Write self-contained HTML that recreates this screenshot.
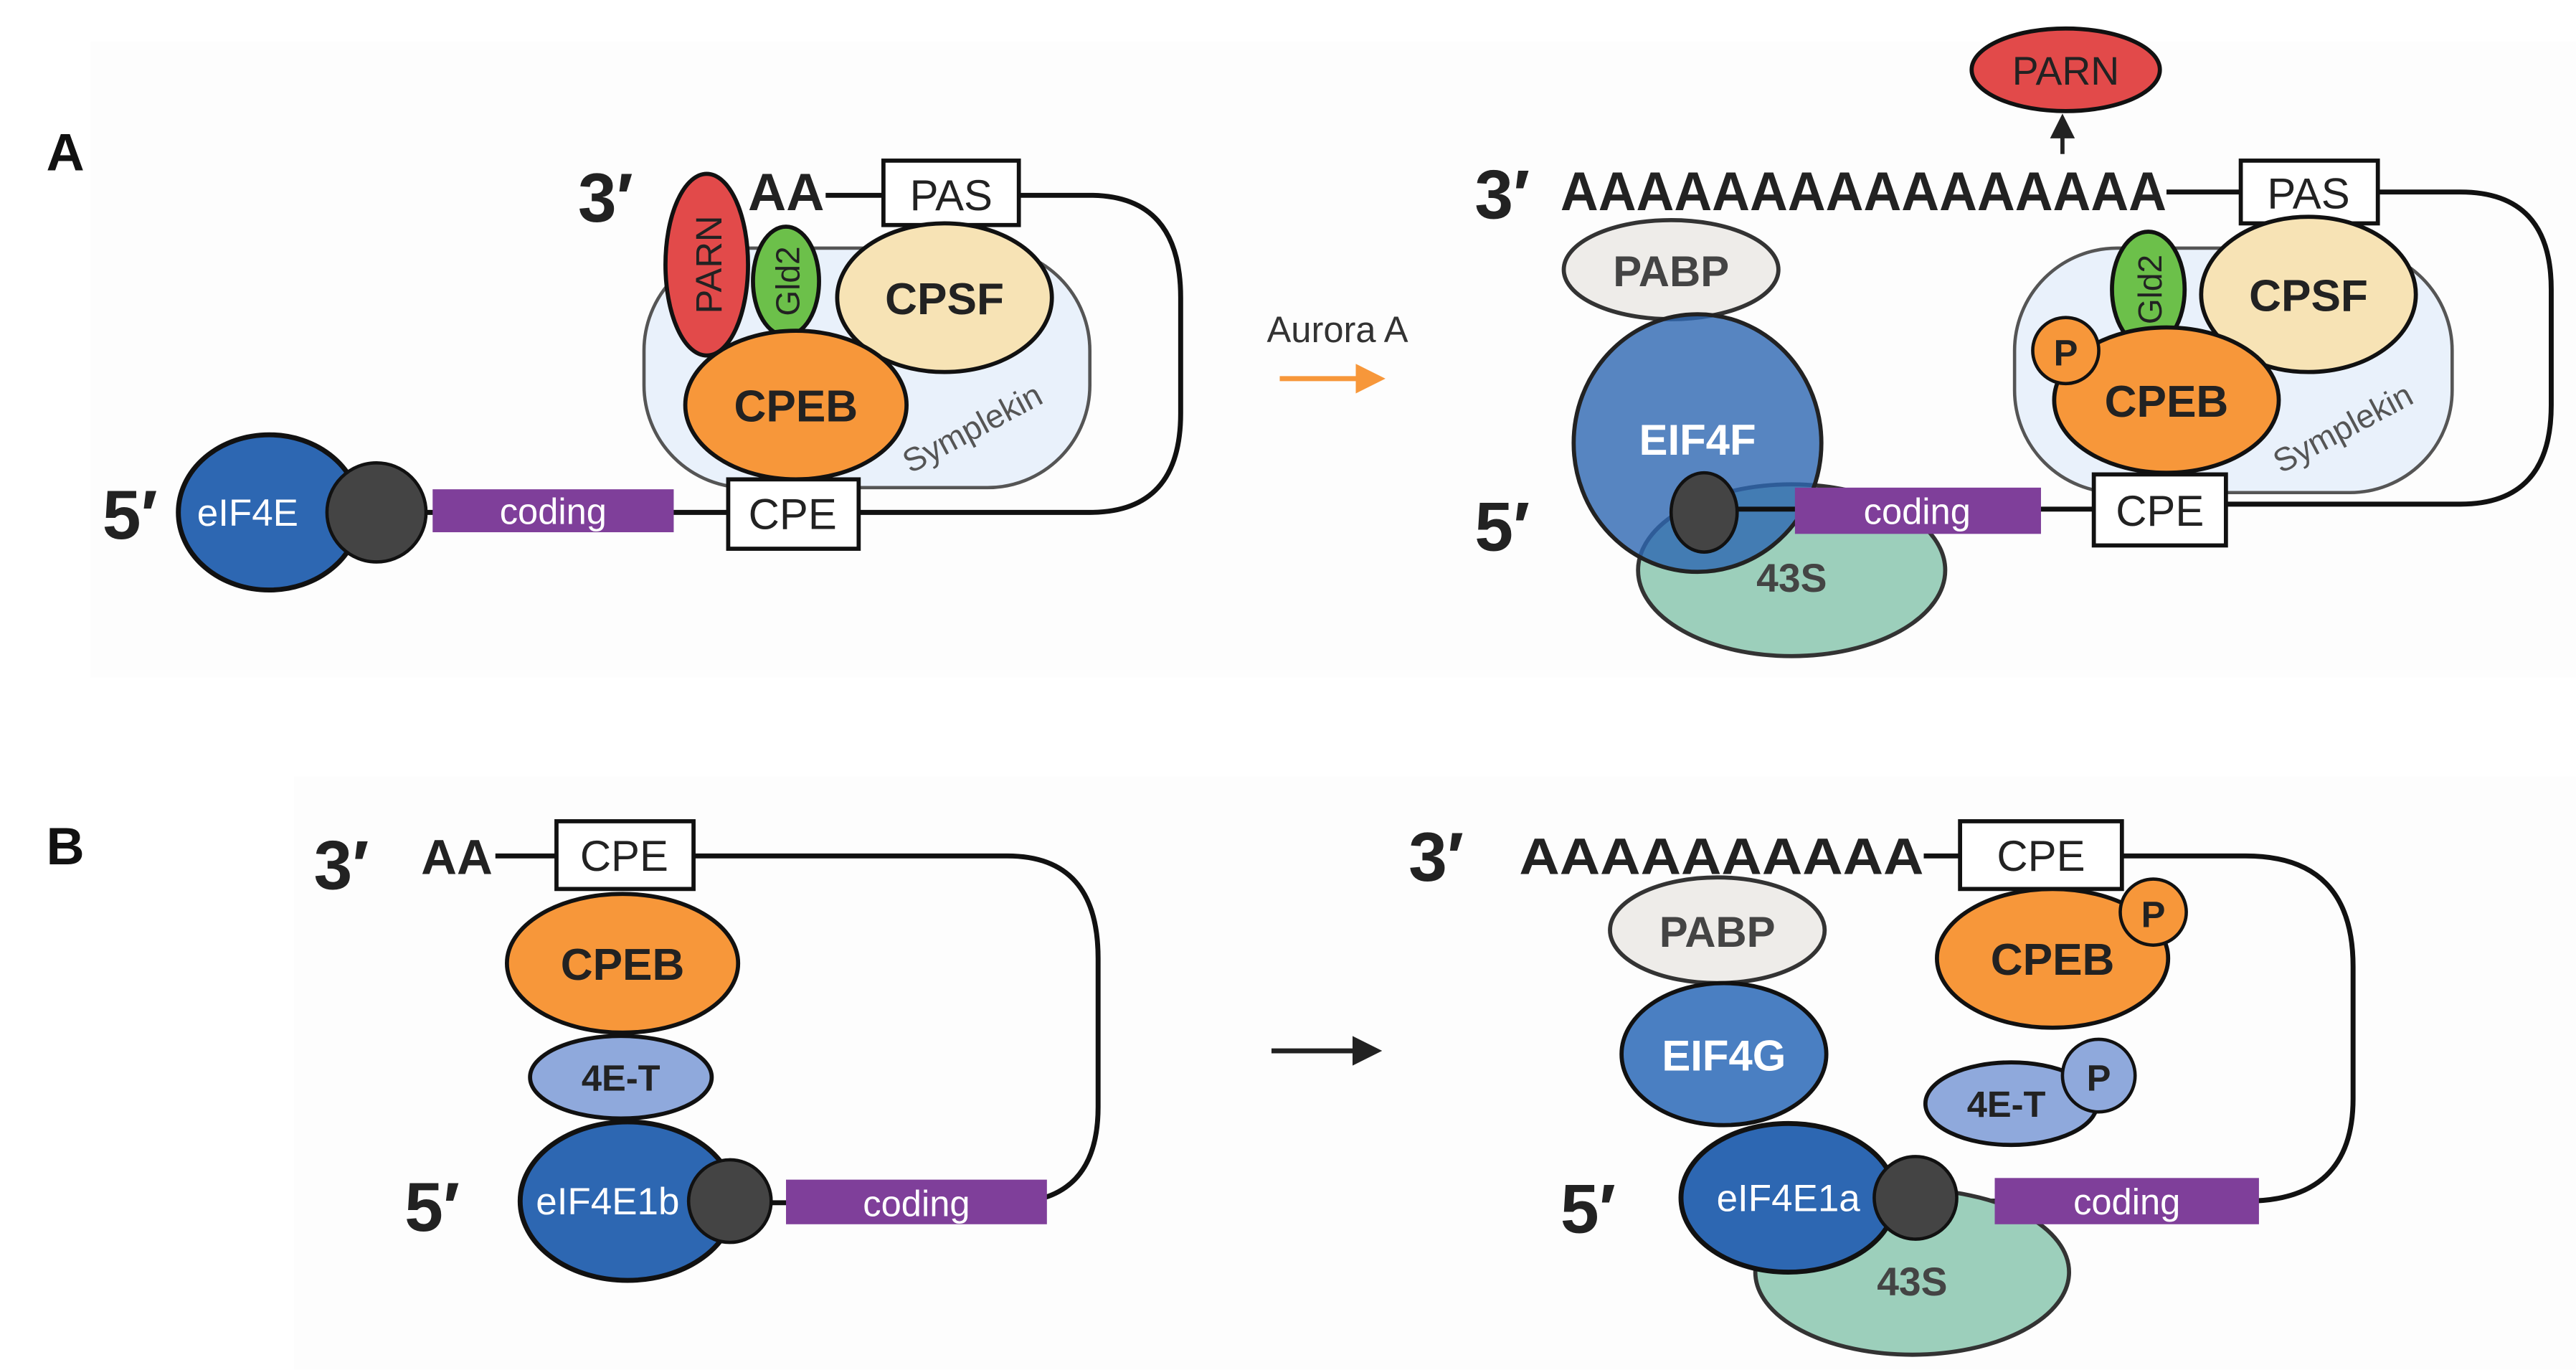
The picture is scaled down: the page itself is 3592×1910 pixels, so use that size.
<!DOCTYPE html>
<html><head><meta charset="utf-8"><style>html,body{margin:0;padding:0;background:#fff}svg{display:block}</style></head>
<body>
<svg width="3592" height="1910" viewBox="0 0 1560 829" xmlns="http://www.w3.org/2000/svg" font-family="Liberation Sans, sans-serif">
<rect x="0" y="0" width="1560" height="829" fill="#fff"/>
<rect x="55" y="25" width="1505" height="385" fill="#fdfdfd"/>
<rect x="178" y="470" width="1382" height="359" fill="#fdfdfd"/>
<defs><marker id="ah" markerWidth="6" markerHeight="6" refX="3" refY="3" orient="auto"><path d="M0,0 L6,3 L0,6 z" fill="#222"/></marker>
<marker id="ao" markerWidth="6" markerHeight="6" refX="3" refY="3" orient="auto"><path d="M0,0 L6,3 L0,6 z" fill="#f7973a"/></marker></defs>
<g stroke="#111" stroke-width="3" fill="none">
<path d="M500,118 H535 M617,118 H660 Q715,118 715,180 V250 Q715,310 660,310 H520 M441,310 H230"/>
<path d="M1312,116 H1357 M1440,116 H1490 Q1545,116 1545,175 V245 Q1545,305 1490,305 H1348 M1268,308 H1043"/>
<path d="M300,518 H337 M420,518 H610 Q665,518 665,580 V670 Q665,728 610,728 H442"/>
<path d="M1165,518 H1187 M1285,518 H1360 Q1425,518 1425,585 V665 Q1425,727 1360,727 H1160"/>
</g>
<text x="28" y="103" font-size="32" font-weight="bold" fill="#111">A</text>
<text x="28" y="523" font-size="32" font-weight="bold" fill="#111">B</text>
<g font-weight="bold" fill="#222">
<text x="350" y="134" font-size="42">3′</text>
<text x="453" y="127" font-size="32">AA</text>
<text x="62" y="326" font-size="42">5′</text>
<text x="893" y="132" font-size="42">3′</text>
<text x="945" y="127" font-size="33" textLength="367" lengthAdjust="spacingAndGlyphs">AAAAAAAAAAAAAAAA</text>
<text x="893" y="333" font-size="42">5′</text>
<text x="190" y="538" font-size="42">3′</text>
<text x="255" y="529" font-size="30">AA</text>
<text x="245" y="745" font-size="42">5′</text>
<text x="853" y="533" font-size="42">3′</text>
<text x="920" y="529" font-size="31" textLength="245" lengthAdjust="spacingAndGlyphs">AAAAAAAAAA</text>
<text x="945" y="746" font-size="42">5′</text>
</g>
<rect x="390" y="150" width="270" height="145" rx="62" fill="#e9f1fb" stroke="#555" stroke-width="2"/>
<rect x="535" y="97" width="82" height="39" fill="#fff" stroke="#111" stroke-width="2.5"/>
<text x="576" y="127" font-size="26" text-anchor="middle" fill="#222">PAS</text>
<ellipse cx="428" cy="160" rx="25" ry="55" fill="#e24a4a" stroke="#111" stroke-width="2.5"/>
<text transform="translate(437,160) rotate(-90)" font-size="22" text-anchor="middle" fill="#222">PARN</text>
<ellipse cx="476" cy="170" rx="20" ry="33" fill="#6cc04a" stroke="#111" stroke-width="2.5"/>
<text transform="translate(484,170) rotate(-90)" font-size="20" text-anchor="middle" fill="#222">Gld2</text>
<ellipse cx="572" cy="180" rx="65" ry="45" fill="#f7e3b5" stroke="#111" stroke-width="2.5"/>
<text x="572" y="190" font-size="27" font-weight="bold" text-anchor="middle" fill="#222">CPSF</text>
<ellipse cx="482" cy="245" rx="67" ry="45" fill="#f7973a" stroke="#111" stroke-width="2.5"/>
<text x="482" y="255" font-size="27" font-weight="bold" text-anchor="middle" fill="#222">CPEB</text>
<text transform="translate(592,265) rotate(-28)" font-size="20" text-anchor="middle" fill="#555">Symplekin</text>
<rect x="441" y="290" width="79" height="42" fill="#fff" stroke="#111" stroke-width="2.5"/>
<text x="480" y="320" font-size="26" text-anchor="middle" fill="#222">CPE</text>
<rect x="262" y="296" width="146" height="26" fill="#7f3f9a"/>
<text x="335" y="317" font-size="22" text-anchor="middle" fill="#fff">coding</text>
<ellipse cx="163" cy="310" rx="55" ry="47" fill="#2d67b2" stroke="#111" stroke-width="3"/>
<text x="150" y="318" font-size="23" text-anchor="middle" fill="#fff">eIF4E</text>
<circle cx="228" cy="310" r="30" fill="#444" stroke="#111" stroke-width="2"/>
<text x="810" y="207" font-size="22" text-anchor="middle" fill="#333">Aurora A</text>
<line x1="775" y1="229" x2="830" y2="229" stroke="#f7973a" stroke-width="3" marker-end="url(#ao)"/>
<ellipse cx="1251" cy="42" rx="57" ry="25" fill="#e24a4a" stroke="#111" stroke-width="2.5"/>
<text x="1251" y="51" font-size="24" text-anchor="middle" fill="#222">PARN</text>
<line x1="1249" y1="93" x2="1249" y2="76" stroke="#222" stroke-width="2.5" marker-end="url(#ah)"/>
<rect x="1220" y="150" width="265" height="148" rx="62" fill="#e9f1fb" stroke="#555" stroke-width="2"/>
<rect x="1357" y="97" width="83" height="38" fill="#fff" stroke="#111" stroke-width="2.5"/>
<text x="1398" y="126" font-size="26" text-anchor="middle" fill="#222">PAS</text>
<ellipse cx="1301" cy="175" rx="22" ry="35" fill="#6cc04a" stroke="#111" stroke-width="2.5"/>
<text transform="translate(1309,175) rotate(-90)" font-size="20" text-anchor="middle" fill="#222">Gld2</text>
<ellipse cx="1398" cy="178" rx="65" ry="47" fill="#f7e3b5" stroke="#111" stroke-width="2.5"/>
<text x="1398" y="188" font-size="27" font-weight="bold" text-anchor="middle" fill="#222">CPSF</text>
<ellipse cx="1312" cy="242" rx="68" ry="44" fill="#f7973a" stroke="#111" stroke-width="2.5"/>
<text x="1312" y="252" font-size="27" font-weight="bold" text-anchor="middle" fill="#222">CPEB</text>
<circle cx="1251" cy="212" r="20" fill="#f7973a" stroke="#111" stroke-width="2"/>
<text x="1251" y="221" font-size="22" font-weight="bold" text-anchor="middle" fill="#222">P</text>
<text transform="translate(1422,265) rotate(-28)" font-size="20" text-anchor="middle" fill="#555">Symplekin</text>
<rect x="1268" y="287" width="80" height="43" fill="#fff" stroke="#111" stroke-width="2.5"/>
<text x="1308" y="318" font-size="26" text-anchor="middle" fill="#222">CPE</text>
<ellipse cx="1012" cy="163" rx="65" ry="30" fill="#eeece9" stroke="#333" stroke-width="2.5"/>
<text x="1012" y="173" font-size="26" font-weight="bold" text-anchor="middle" fill="#444">PABP</text>
<ellipse cx="1085" cy="345" rx="93" ry="52" fill="#9ccfbb" stroke="#333" stroke-width="2.5"/>
<text x="1085" y="358" font-size="24" font-weight="bold" text-anchor="middle" fill="#444">43S</text>
<ellipse cx="1028" cy="268" rx="75" ry="78" fill="#2d67b2" fill-opacity="0.8" stroke="#222" stroke-width="2.5"/>
<text x="1028" y="275" font-size="26" font-weight="bold" text-anchor="middle" fill="#fff">EIF4F</text>
<rect x="1087" y="295" width="149" height="28" fill="#7f3f9a"/>
<text x="1161" y="317" font-size="22" text-anchor="middle" fill="#fff">coding</text>
<line x1="1043" y1="308" x2="1087" y2="308" stroke="#111" stroke-width="3"/>
<ellipse cx="1032" cy="310" rx="20" ry="24" fill="#444" stroke="#111" stroke-width="2"/>
<rect x="337" y="497" width="83" height="41" fill="#fff" stroke="#111" stroke-width="2.5"/>
<text x="378" y="527" font-size="26" text-anchor="middle" fill="#222">CPE</text>
<ellipse cx="377" cy="583" rx="70" ry="42" fill="#f7973a" stroke="#111" stroke-width="2.5"/>
<text x="377" y="593" font-size="27" font-weight="bold" text-anchor="middle" fill="#222">CPEB</text>
<ellipse cx="376" cy="652" rx="55" ry="25" fill="#8fa9dc" stroke="#111" stroke-width="2.5"/>
<text x="376" y="660" font-size="22" font-weight="bold" text-anchor="middle" fill="#222">4E-T</text>
<ellipse cx="380" cy="727" rx="65" ry="48" fill="#2d67b2" stroke="#111" stroke-width="3"/>
<text x="368" y="735" font-size="23" text-anchor="middle" fill="#fff">eIF4E1b</text>
<rect x="476" y="714" width="158" height="27" fill="#7f3f9a"/>
<text x="555" y="736" font-size="22" text-anchor="middle" fill="#fff">coding</text>
<circle cx="442" cy="727" r="25" fill="#444" stroke="#111" stroke-width="2"/>
<line x1="770" y1="636" x2="828" y2="636" stroke="#222" stroke-width="3" marker-end="url(#ah)"/>
<rect x="1187" y="497" width="98" height="41" fill="#fff" stroke="#111" stroke-width="2.5"/>
<text x="1236" y="527" font-size="26" text-anchor="middle" fill="#222">CPE</text>
<ellipse cx="1040" cy="563" rx="65" ry="32" fill="#eeece9" stroke="#333" stroke-width="2.5"/>
<text x="1040" y="573" font-size="26" font-weight="bold" text-anchor="middle" fill="#444">PABP</text>
<ellipse cx="1044" cy="638" rx="62" ry="43" fill="#4a7fc2" stroke="#111" stroke-width="2.5"/>
<text x="1044" y="648" font-size="26" font-weight="bold" text-anchor="middle" fill="#fff">EIF4G</text>
<ellipse cx="1158" cy="770" rx="95" ry="50" fill="#9ccfbb" stroke="#333" stroke-width="2.5"/>
<text x="1158" y="784" font-size="24" font-weight="bold" text-anchor="middle" fill="#444">43S</text>
<ellipse cx="1083" cy="725" rx="65" ry="45" fill="#2d67b2" stroke="#111" stroke-width="3"/>
<text x="1083" y="733" font-size="23" text-anchor="middle" fill="#fff">eIF4E1a</text>
<rect x="1208" y="713" width="160" height="28" fill="#7f3f9a"/>
<text x="1288" y="735" font-size="22" text-anchor="middle" fill="#fff">coding</text>
<circle cx="1160" cy="725" r="25" fill="#444" stroke="#111" stroke-width="2"/>
<ellipse cx="1243" cy="580" rx="70" ry="42" fill="#f7973a" stroke="#111" stroke-width="2.5"/>
<text x="1243" y="590" font-size="27" font-weight="bold" text-anchor="middle" fill="#222">CPEB</text>
<circle cx="1304" cy="552" r="20" fill="#f7973a" stroke="#111" stroke-width="2"/>
<text x="1304" y="561" font-size="22" font-weight="bold" text-anchor="middle" fill="#222">P</text>
<ellipse cx="1218" cy="668" rx="52" ry="25" fill="#8fa9dc" stroke="#111" stroke-width="2.5"/>
<text x="1215" y="676" font-size="22" font-weight="bold" text-anchor="middle" fill="#222">4E-T</text>
<circle cx="1271" cy="651" r="22" fill="#8fa9dc" stroke="#111" stroke-width="2"/>
<text x="1271" y="660" font-size="22" font-weight="bold" text-anchor="middle" fill="#222">P</text>
</svg>
</body></html>
